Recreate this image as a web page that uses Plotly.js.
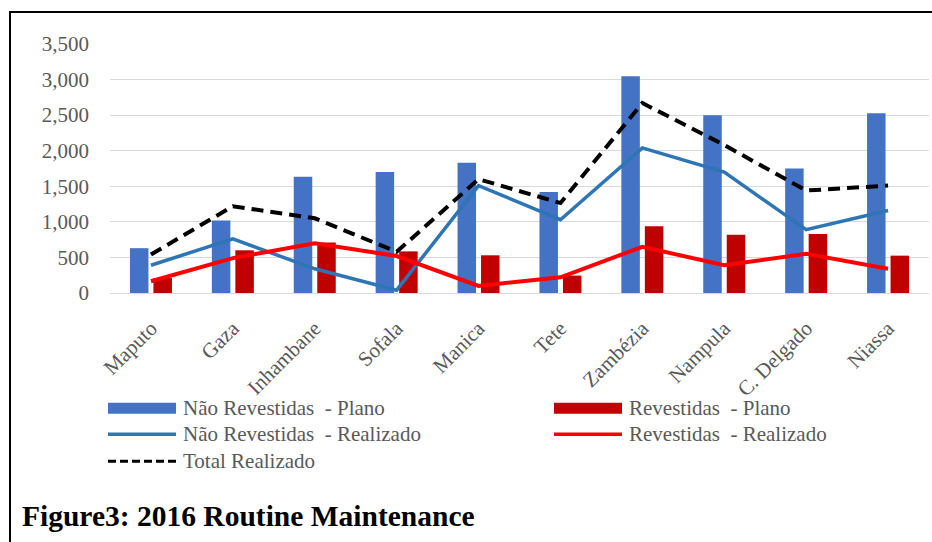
<!DOCTYPE html>
<html>
<head>
<meta charset="utf-8">
<script src="https://cdn.plot.ly/plotly-3.0.1.min.js"></script>
<style>
  html, body { margin: 0; padding: 0; background: #fff; }
  #wrap { position: relative; width: 932px; height: 542px; overflow: hidden; }
  #chart { width: 932px; height: 542px; }
  #frame { position: absolute; left: 9px; top: 11px; width: 930px; height: 540px;
           border-left: 2px solid #000; border-top: 2px solid #000; pointer-events: none; }
</style>
</head>
<body>
<div id="wrap">
  <div id="chart"></div>
  <div id="frame"></div>
</div>
<script>
// ---- data ----
const provinces = ["Maputo", "Gaza", "Inhambane", "Sofala", "Manica", "Tete", "Zambézia", "Nampula", "C. Delgado", "Niassa"];
const naoRevPlano      = [630, 1020, 1635, 1700, 1830, 1420, 3045, 2500, 1750, 2525];
const revPlano         = [210, 600, 710, 585, 530, 245, 940, 820, 830, 525];
const naoRevRealizado  = [390, 760, 340, 40, 1510, 1030, 2040, 1700, 890, 1160];
const revRealizado     = [165, 490, 700, 520, 100, 220, 650, 390, 550, 340];
const totalRealizado   = [540, 1220, 1050, 580, 1600, 1265, 2670, 2080, 1440, 1510];
const yTickVals = [0, 500, 1000, 1500, 2000, 2500, 3000, 3500];

const names = ["Não Revestidas  - Plano", "Revestidas  - Plano", "Não Revestidas  - Realizado", "Revestidas  - Realizado", "Total Realizado"];
const colors = { blueBar: "#4472C4", redBar: "#C00000", blueLine: "#2E75B6", redLine: "#FF0000", black: "#000000" };

const FONT = "'Liberation Serif', 'Times New Roman', serif";
const GRAY = "#595959";

const traces = [
  { type: "bar", name: names[0], x: provinces, y: naoRevPlano, marker: { color: colors.blueBar }, hoverinfo: "y" },
  { type: "bar", name: names[1], x: provinces, y: revPlano, marker: { color: colors.redBar }, hoverinfo: "y" },
  { type: "scatter", mode: "lines", name: names[2], x: provinces, y: naoRevRealizado, line: { color: colors.blueLine, width: 3.5 } },
  { type: "scatter", mode: "lines", name: names[3], x: provinces, y: revRealizado, line: { color: colors.redLine, width: 4 } },
  { type: "scatter", mode: "lines", name: names[4], x: provinces, y: totalRealizado, line: { color: colors.black, width: 4, dash: "12px,7px" } }
];

// plot area in pixels
const L = 110, R = 929, T = 44, B = 293.5;
const px = (x) => (x - L) / (R - L);
const py = (y) => (B - y) / (B - T);

// custom legend (symbols as shapes, labels as text)
const legendRows = [409, 435, 462];
const legendItems = [
  { col: 0, row: 0, kind: "bar", color: colors.blueBar, text: names[0] },
  { col: 1, row: 0, kind: "bar", color: colors.redBar, text: names[1] },
  { col: 0, row: 1, kind: "line", color: colors.blueLine, text: names[2] },
  { col: 1, row: 1, kind: "line", color: colors.redLine, text: names[3] },
  { col: 0, row: 2, kind: "dash", color: colors.black, text: names[4] }
];
const colX = [108, 554];
const shapes = [];
const annotations = [];
legendItems.forEach(it => {
  const x0 = colX[it.col], x1 = x0 + 68, yc = legendRows[it.row];
  if (it.kind === "bar") {
    shapes.push({ type: "rect", xref: "paper", yref: "paper", x0: px(x0), x1: px(x1), y0: py(yc + 5.5), y1: py(yc - 5.5),
      fillcolor: it.color, line: { width: 0 } });
  } else {
    shapes.push({ type: "line", xref: "paper", yref: "paper", x0: px(x0), x1: px(x1), y0: py(yc), y1: py(yc),
      line: { color: it.color, width: it.kind === "dash" ? 3 : 3.5, dash: it.kind === "dash" ? "8px,4px" : "solid" } });
  }
  annotations.push({ xref: "paper", yref: "paper", x: px(x1 + 5), y: py(yc), xanchor: "left", yanchor: "middle",
    showarrow: false, text: it.text, font: { family: FONT, size: 21, color: GRAY } });
});

const layout = {
  width: 932, height: 542,
  margin: { l: L, r: 932 - R, t: T, b: 542 - B, pad: 0 },
  paper_bgcolor: "#fff", plot_bgcolor: "#fff",
  showlegend: false,
  barmode: "group", bargap: 0.426, bargroupgap: 0.213,
  title: { text: "<b>Figure3: 2016 Routine Maintenance</b>", xref: "container", yref: "container",
    x: 22 / 932, xanchor: "left", y: 1 - 516 / 542, yanchor: "middle",
    font: { family: FONT, size: 29.5, color: "#000" } },
  xaxis: { type: "category", tickangle: -45, showgrid: false, zeroline: false, showline: false, ticks: "",
    tickfont: { family: FONT, size: 21, color: GRAY }, ticklabelstandoff: 18, fixedrange: true },
  yaxis: { range: [0, 3500], tickvals: yTickVals, tickformat: ",d", showgrid: true, gridcolor: "#D9D9D9", gridwidth: 1,
    zeroline: true, zerolinecolor: "#D9D9D9", zerolinewidth: 1, showline: false, ticks: "",
    tickfont: { family: FONT, size: 21, color: GRAY }, ticklabelstandoff: 20, fixedrange: true },
  shapes: shapes,
  annotations: annotations
};

Plotly.newPlot("chart", traces, layout, { displayModeBar: false, staticPlot: true });
</script>
</body>
</html>
